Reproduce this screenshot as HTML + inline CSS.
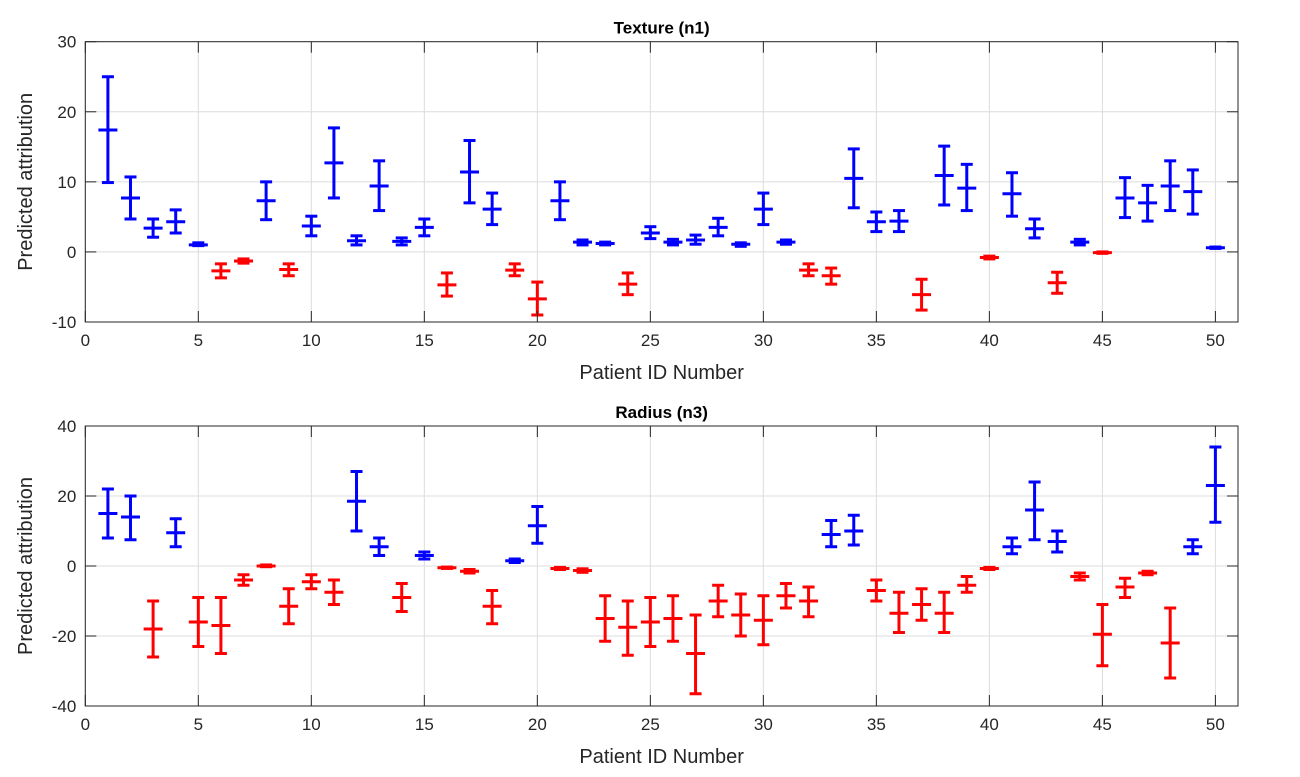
<!DOCTYPE html>
<html><head><meta charset="utf-8"><style>
body{margin:0;background:#fff;}
svg{display:block;font-family:"Liberation Sans",sans-serif;}
</style></head><body>
<svg id="chart" width="1300" height="777"></svg>
<script>
const ids = Array.from({length:50},(_,i)=>i+1);
const texCenter=[17.4,7.7,3.4,4.3,1,-2.7,-1.3,7.3,-2.5,3.7,12.7,1.6,9.4,1.5,3.5,-4.7,11.4,6.1,-2.6,-6.7,7.3,1.4,1.2,-4.6,2.7,1.4,1.7,3.5,1.1,6.1,1.4,-2.6,-3.4,10.5,4.3,4.4,-6.1,10.9,9.1,-0.8,8.3,3.3,-4.4,1.4,-0.1,7.7,7,9.4,8.6,0.6];
const texUpper=[25,10.7,4.7,6,1.3,-1.7,-1,10,-1.7,5.1,17.7,2.3,13,2,4.7,-3,15.9,8.4,-1.7,-4.3,10,1.7,1.4,-3,3.6,1.8,2.4,4.8,1.3,8.4,1.7,-1.7,-2.3,14.7,5.7,5.9,-3.9,15.1,12.5,-0.6,11.3,4.7,-2.9,1.8,0,10.6,9.5,13,11.7,0.7];
const texLower=[9.9,4.7,2.1,2.7,0.9,-3.7,-1.6,4.6,-3.4,2.3,7.7,1,5.9,1,2.3,-6.3,7,3.9,-3.4,-9,4.6,1,1,-6.1,1.9,1,1.1,2.3,0.8,3.9,1.1,-3.4,-4.6,6.3,2.9,2.9,-8.3,6.7,5.9,-1,5.1,2,-5.9,1,-0.2,4.9,4.4,5.9,5.4,0.5];
const radCenter=[15,14,-18,9.5,-16,-17,-4,0,-11.5,-4.5,-7.5,18.5,5.5,-9,3,-0.5,-1.5,-11.5,1.5,11.5,-0.7,-1.3,-15,-17.5,-16,-15,-25,-10,-14,-15.5,-8.5,-10,9,10,-7,-13.5,-11,-13.5,-5.5,-0.7,5.5,16,7,-3,-19.5,-6,-2,-22,5.5,23];
const radUpper=[22,20,-10,13.5,-9,-9,-2.5,0.3,-6.5,-2.5,-4,27,8,-5,4,-0.3,-1,-7,2,17,-0.4,-0.8,-8.5,-10,-9,-8.5,-14,-5.5,-8,-8.5,-5,-6,13,14.5,-4,-7.5,-6.5,-7.5,-3,-0.4,8,24,10,-2,-11,-3.5,-1.5,-12,7.5,34];
const radLower=[8,7.5,-26,5.5,-23,-25,-5.5,-0.2,-16.5,-6.5,-11,10,3,-13,2,-0.7,-2,-16.5,1,6.5,-1,-1.8,-21.5,-25.5,-23,-21.5,-36.5,-14.5,-20,-22.5,-12,-14.5,5.5,6,-10,-19,-15.5,-19,-7.5,-1,3.5,7.5,4,-4,-28.5,-9,-2.5,-32,3.5,12.5];
const xTicks=[0,5,10,15,20,25,30,35,40,45,50];
const texYTicks=[-10,0,10,20,30];
const radYTicks=[-40,-20,0,20,40];

const NS="http://www.w3.org/2000/svg";
const svg=document.getElementById('chart');
function mk(tag,attrs,parent){const e=document.createElementNS(NS,tag);for(const k in attrs)e.setAttribute(k,attrs[k]);(parent||svg).appendChild(e);return e;}

function panel(name,title,top,bottom,ymin,ymax,yTicks,center,upper,lower){
  const L=85.3,R=1238;
  const g=mk('g',{});
  
  
  const xs=v=>L+(v-0)/(51-0)*(R-L);
  const ys=v=>bottom-(v-ymin)/(ymax-ymin)*(bottom-top);
  mk('rect',{x:L,y:top,width:R-L,height:bottom-top,fill:'#fff'},g);
  // grid
  xTicks.forEach(t=>{
    const l=mk('line',{x1:xs(t),x2:xs(t),y1:top,y2:bottom,stroke:'#dcdcdc','stroke-width':1},g);
    
  });
  yTicks.forEach(t=>{
    const l=mk('line',{x1:L,x2:R,y1:ys(t),y2:ys(t),stroke:'#dcdcdc','stroke-width':1},g);
    
  });
  // bars
  ids.forEach((id,i)=>{
    const col=center[i]>0?'#0000ff':'#ff0000';
    const eg=mk('g',{stroke:col,'stroke-width':3},g);
    
    
    const x=xs(id);
    mk('line',{x1:x,x2:x,y1:ys(upper[i]),y2:ys(lower[i])},eg);
    mk('line',{x1:x-6,x2:x+6,y1:ys(upper[i]),y2:ys(upper[i])},eg);
    mk('line',{x1:x-6,x2:x+6,y1:ys(lower[i]),y2:ys(lower[i])},eg);
    mk('line',{x1:x-9.5,x2:x+9.5,y1:ys(center[i]),y2:ys(center[i])},eg);
  });
  // box
  const b=mk('rect',{x:L,y:top,width:R-L,height:bottom-top,fill:'none',stroke:'#262626','stroke-width':1},g);
  
  xTicks.forEach(t=>{
    mk('line',{x1:xs(t),x2:xs(t),y1:bottom,y2:bottom-11,stroke:'#262626'},g);
    mk('line',{x1:xs(t),x2:xs(t),y1:top,y2:top+11,stroke:'#262626'},g);
    const tx=mk('text',{x:xs(t),y:bottom+24,'text-anchor':'middle','font-size':17,fill:'#262626'},g);
    tx.textContent=t;
    
  });
  yTicks.forEach(t=>{
    mk('line',{x1:L,x2:L+11,y1:ys(t),y2:ys(t),stroke:'#262626'},g);
    mk('line',{x1:R,x2:R-11,y1:ys(t),y2:ys(t),stroke:'#262626'},g);
    const tx=mk('text',{x:L-9,y:ys(t)+6,'text-anchor':'end','font-size':17,fill:'#262626'},g);
    tx.textContent=t;
    
  });
  const tt=mk('text',{x:(L+R)/2,y:top-8,'text-anchor':'middle','font-size':17,'font-weight':'bold',fill:'#000'},g);
  tt.textContent=title;
  
  const xl=mk('text',{x:(L+R)/2,y:bottom+57,'text-anchor':'middle','font-size':20,fill:'#262626'},g);
  xl.textContent='Patient ID Number';
  
  const cy=(top+bottom)/2;
  const yl=mk('text',{x:32,y:cy,'text-anchor':'middle','font-size':20,fill:'#262626',transform:`rotate(-90 32 ${cy})`},g);
  yl.textContent='Predicted attribution';
  
}
panel('texture','Texture (n1)',41.7,322,-10,30,texYTicks,texCenter,texUpper,texLower);
panel('radius','Radius (n3)',426,706,-40,40,radYTicks,radCenter,radUpper,radLower);
</script>
</body></html>
